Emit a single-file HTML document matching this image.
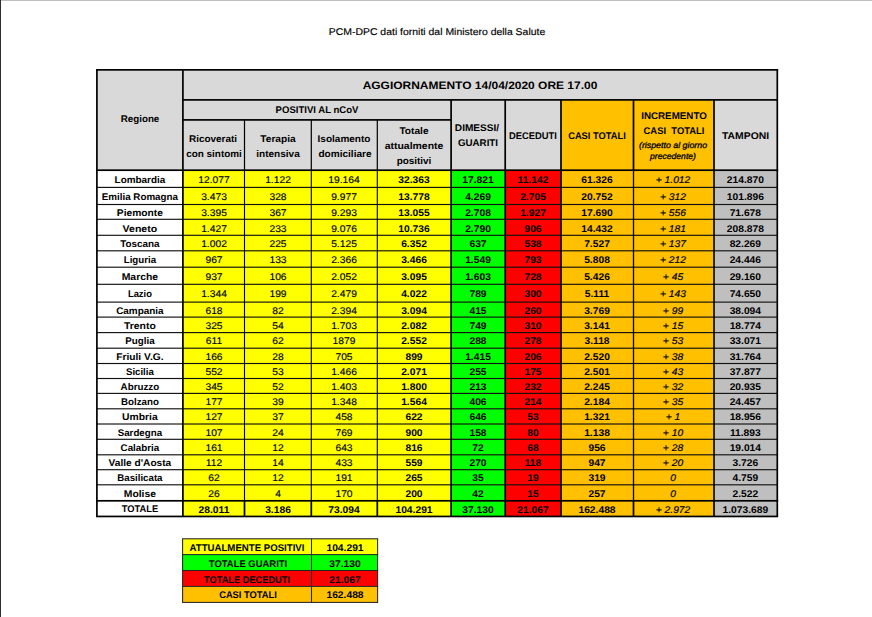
<!DOCTYPE html>
<html lang="it"><head><meta charset="utf-8"><title>PCM-DPC dati forniti dal Ministero della Salute</title>
<style>
html,body{margin:0;padding:0;background:#fff;}
html{overflow:hidden;}
body{width:872px;height:617px;overflow:hidden;}
#page{width:872px;height:617px;position:relative;overflow:hidden;font-family:"Liberation Sans",sans-serif;color:#000;text-rendering:geometricPrecision;}
svg{position:absolute;left:0;top:0;}
.t{position:absolute;width:300px;text-align:center;white-space:nowrap;font-weight:700;transform-origin:50% 50%;}
</style></head><body><div id="page">
<svg width="872" height="617" viewBox="0 0 872 617">
<rect x="0" y="0" width="872" height="1" fill="#BFBFBF"/>
<rect x="0" y="0" width="1" height="617" fill="#2E2E2E"/>
<rect x="96.90" y="69.85" width="464.10" height="100.35" fill="#D9D9D9"/>
<rect x="561.00" y="99.90" width="153.00" height="70.30" fill="#FFC000"/>
<rect x="714.00" y="99.90" width="63.30" height="70.30" fill="#D9D9D9"/>
<rect x="561.00" y="69.85" width="216.30" height="30.05" fill="#D9D9D9"/>
<rect x="96.90" y="170.20" width="86.00" height="346.25" fill="#FFFFFF"/>
<rect x="182.90" y="170.20" width="268.20" height="346.25" fill="#FFFF00"/>
<rect x="451.10" y="170.20" width="54.10" height="346.25" fill="#00FF00"/>
<rect x="505.20" y="170.20" width="55.80" height="346.25" fill="#FF0000"/>
<rect x="561.00" y="170.20" width="153.00" height="346.25" fill="#FFC000"/>
<rect x="714.00" y="170.20" width="63.30" height="346.25" fill="#BFBFBF"/>
<rect x="96.90" y="186.83" width="680.40" height="1.15" fill="#111"/>
<rect x="96.90" y="203.93" width="680.40" height="1.15" fill="#111"/>
<rect x="96.90" y="218.73" width="680.40" height="1.15" fill="#111"/>
<rect x="96.90" y="234.73" width="680.40" height="1.15" fill="#111"/>
<rect x="96.90" y="250.23" width="680.40" height="1.15" fill="#111"/>
<rect x="96.90" y="266.62" width="680.40" height="1.15" fill="#111"/>
<rect x="96.90" y="283.73" width="680.40" height="1.15" fill="#111"/>
<rect x="96.90" y="301.53" width="680.40" height="1.15" fill="#111"/>
<rect x="96.90" y="316.53" width="680.40" height="1.15" fill="#111"/>
<rect x="96.90" y="332.03" width="680.40" height="1.15" fill="#111"/>
<rect x="96.90" y="347.62" width="680.40" height="1.15" fill="#111"/>
<rect x="96.90" y="362.93" width="680.40" height="1.15" fill="#111"/>
<rect x="96.90" y="377.93" width="680.40" height="1.15" fill="#111"/>
<rect x="96.90" y="392.82" width="680.40" height="1.15" fill="#111"/>
<rect x="96.90" y="408.23" width="680.40" height="1.15" fill="#111"/>
<rect x="96.90" y="423.43" width="680.40" height="1.15" fill="#111"/>
<rect x="96.90" y="438.73" width="680.40" height="1.15" fill="#111"/>
<rect x="96.90" y="454.23" width="680.40" height="1.15" fill="#111"/>
<rect x="96.90" y="469.12" width="680.40" height="1.15" fill="#111"/>
<rect x="96.90" y="484.23" width="680.40" height="1.15" fill="#111"/>
<rect x="96.05" y="170.20" width="1.70" height="330.60" fill="#000"/>
<rect x="182.05" y="170.20" width="1.70" height="330.60" fill="#000"/>
<rect x="243.95" y="170.20" width="1.10" height="330.60" fill="#000"/>
<rect x="310.75" y="170.20" width="1.10" height="330.60" fill="#000"/>
<rect x="376.75" y="170.20" width="1.10" height="330.60" fill="#000"/>
<rect x="450.25" y="170.20" width="1.70" height="330.60" fill="#000"/>
<rect x="504.35" y="170.20" width="1.70" height="330.60" fill="#000"/>
<rect x="560.15" y="170.20" width="1.70" height="330.60" fill="#000"/>
<rect x="632.85" y="170.20" width="1.30" height="330.60" fill="#000"/>
<rect x="713.20" y="170.20" width="1.60" height="330.60" fill="#000"/>
<rect x="776.45" y="170.20" width="1.70" height="330.60" fill="#000"/>
<rect x="96.05" y="500.80" width="1.70" height="15.65" fill="#000"/>
<rect x="182.05" y="500.80" width="1.70" height="15.65" fill="#000"/>
<rect x="243.65" y="500.80" width="1.70" height="15.65" fill="#000"/>
<rect x="310.45" y="500.80" width="1.70" height="15.65" fill="#000"/>
<rect x="376.45" y="500.80" width="1.70" height="15.65" fill="#000"/>
<rect x="450.25" y="500.80" width="1.70" height="15.65" fill="#000"/>
<rect x="504.35" y="500.80" width="1.70" height="15.65" fill="#000"/>
<rect x="560.15" y="500.80" width="1.70" height="15.65" fill="#000"/>
<rect x="632.65" y="500.80" width="1.70" height="15.65" fill="#000"/>
<rect x="713.15" y="500.80" width="1.70" height="15.65" fill="#000"/>
<rect x="776.45" y="500.80" width="1.70" height="15.65" fill="#000"/>
<rect x="96.05" y="499.95" width="682.10" height="1.70" fill="#000"/>
<rect x="96.05" y="515.60" width="682.10" height="1.70" fill="#000"/>
<rect x="96.05" y="69.00" width="682.10" height="1.70" fill="#000"/>
<rect x="182.90" y="99.05" width="594.40" height="1.70" fill="#000"/>
<rect x="182.90" y="119.05" width="268.20" height="1.70" fill="#000"/>
<rect x="96.05" y="169.35" width="682.10" height="1.70" fill="#000"/>
<rect x="96.05" y="69.85" width="1.70" height="100.35" fill="#000"/>
<rect x="776.45" y="69.85" width="1.70" height="100.35" fill="#000"/>
<rect x="182.05" y="69.85" width="1.70" height="100.35" fill="#000"/>
<rect x="450.25" y="99.90" width="1.70" height="70.30" fill="#000"/>
<rect x="504.35" y="99.90" width="1.70" height="70.30" fill="#000"/>
<rect x="560.15" y="99.90" width="1.70" height="70.30" fill="#000"/>
<rect x="632.65" y="99.90" width="1.70" height="70.30" fill="#000"/>
<rect x="713.15" y="99.90" width="1.70" height="70.30" fill="#000"/>
<rect x="243.90" y="119.90" width="1.20" height="50.30" fill="#000"/>
<rect x="310.70" y="119.90" width="1.20" height="50.30" fill="#000"/>
<rect x="376.70" y="119.90" width="1.20" height="50.30" fill="#000"/>
<rect x="182.60" y="538.80" width="195.00" height="15.80" fill="#FFFF00"/>
<rect x="182.60" y="554.60" width="195.00" height="15.90" fill="#00FF00"/>
<rect x="182.60" y="570.50" width="195.00" height="15.90" fill="#FF0000"/>
<rect x="182.60" y="586.40" width="195.00" height="16.00" fill="#FFC000"/>
<rect x="182.10" y="538.27" width="196.00" height="1.05" fill="#262626"/>
<rect x="182.10" y="554.08" width="196.00" height="1.05" fill="#262626"/>
<rect x="182.10" y="569.98" width="196.00" height="1.05" fill="#262626"/>
<rect x="182.10" y="585.88" width="196.00" height="1.05" fill="#262626"/>
<rect x="182.10" y="601.88" width="196.00" height="1.05" fill="#262626"/>
<rect x="182.07" y="538.80" width="1.05" height="63.60" fill="#262626"/>
<rect x="310.98" y="538.80" width="1.05" height="63.60" fill="#262626"/>
<rect x="377.08" y="538.80" width="1.05" height="63.60" fill="#262626"/>
</svg>
<div class="t" style="left:286.85px;width:300.00px;top:27px;font-size:9.8px;line-height:12px;font-weight:400;-webkit-text-stroke:0.15px #000;transform:scaleX(1.066);"><span>PCM-DPC dati forniti dal Ministero della Salute</span></div>
<div class="t" style="left:330.30px;width:300.00px;top:79px;font-size:10.8px;line-height:14px;transform:scaleX(1.109);"><span>AGGIORNAMENTO 14/04/2020 ORE 17.00</span></div>
<div class="t" style="left:2.00px;width:276.00px;top:114px;font-size:9.7px;line-height:12px;transform:scaleX(1.010);"><span>Regione</span></div>
<div class="t" style="left:166.90px;width:300.00px;top:105px;font-size:9.7px;line-height:12px;transform:scaleX(0.986);"><span>POSITIVI AL nCoV</span></div>
<div class="t" style="left:63.45px;width:300.00px;top:134px;font-size:9.7px;line-height:12px;transform:scaleX(1.027);"><span>Ricoverati</span></div>
<div class="t" style="left:63.80px;width:300.00px;top:149px;font-size:9.7px;line-height:12px;transform:scaleX(1.023);"><span>con sintomi</span></div>
<div class="t" style="left:127.65px;width:300.00px;top:134px;font-size:9.7px;line-height:12px;transform:scaleX(1.046);"><span>Terapia</span></div>
<div class="t" style="left:127.75px;width:300.00px;top:149px;font-size:9.7px;line-height:12px;transform:scaleX(1.036);"><span>intensiva</span></div>
<div class="t" style="left:194.15px;width:300.00px;top:134px;font-size:9.7px;line-height:12px;transform:scaleX(1.034);"><span>Isolamento</span></div>
<div class="t" style="left:194.55px;width:300.00px;top:149px;font-size:9.7px;line-height:12px;transform:scaleX(1.038);"><span>domiciliare</span></div>
<div class="t" style="left:264.00px;width:300.00px;top:126px;font-size:9.7px;line-height:12px;transform:scaleX(1.050);"><span>Totale</span></div>
<div class="t" style="left:263.50px;width:300.00px;top:141px;font-size:9.7px;line-height:12px;transform:scaleX(1.078);"><span>attualmente</span></div>
<div class="t" style="left:263.75px;width:300.00px;top:156px;font-size:9.7px;line-height:12px;transform:scaleX(1.023);"><span>positivi</span></div>
<div class="t" style="left:327.35px;width:300.00px;top:123px;font-size:9.7px;line-height:12px;transform:scaleX(1.042);"><span>DIMESSI/</span></div>
<div class="t" style="left:327.75px;width:300.00px;top:138px;font-size:9.7px;line-height:12px;transform:scaleX(1.007);"><span>GUARITI</span></div>
<div class="t" style="left:383.35px;width:300.00px;top:131px;font-size:9.7px;line-height:12px;transform:scaleX(0.967);"><span>DECEDUTI</span></div>
<div class="t" style="left:447.25px;width:300.00px;top:131px;font-size:9.7px;line-height:12px;transform:scaleX(0.963);"><span>CASI TOTALI</span></div>
<div class="t" style="left:523.90px;width:300.00px;top:111px;font-size:9.7px;line-height:12px;transform:scaleX(1.010);"><span>INCREMENTO</span></div>
<div class="t" style="left:524.08px;width:300.00px;top:126px;font-size:9.7px;line-height:12px;transform:scaleX(0.973);"><span>CASI&nbsp; TOTALI</span></div>
<div class="t" style="left:523.25px;width:300.00px;top:140px;font-size:8.4px;line-height:10px;font-weight:400;-webkit-text-stroke:0.3px #000;font-style:italic;transform:scaleX(1.052);"><span>(rispetto al giorno</span></div>
<div class="t" style="left:523.12px;width:300.00px;top:151px;font-size:8.4px;line-height:10px;font-weight:400;-webkit-text-stroke:0.3px #000;font-style:italic;transform:scaleX(1.026);"><span>precedente)</span></div>
<div class="t" style="left:622.90px;width:245.10px;top:131px;font-size:9.7px;line-height:12px;transform:scaleX(1.072);"><span>TAMPONI</span></div>
<div class="t" style="left:2.00px;width:275.80px;top:175px;font-size:9.7px;line-height:12px;transform:scaleX(1.022);"><span>Lombardia</span></div>
<div class="t" style="left:63.70px;width:300.00px;top:175px;font-size:9.7px;line-height:12px;font-weight:400;-webkit-text-stroke:0.15px #000;transform:scaleX(1.060);"><span>12.077</span></div>
<div class="t" style="left:127.90px;width:300.00px;top:175px;font-size:9.7px;line-height:12px;font-weight:400;-webkit-text-stroke:0.15px #000;transform:scaleX(1.060);"><span>1.122</span></div>
<div class="t" style="left:194.30px;width:300.00px;top:175px;font-size:9.7px;line-height:12px;font-weight:400;-webkit-text-stroke:0.15px #000;transform:scaleX(1.060);"><span>19.164</span></div>
<div class="t" style="left:264.20px;width:300.00px;top:175px;font-size:9.7px;line-height:12px;transform:scaleX(1.060);"><span>32.363</span></div>
<div class="t" style="left:328.15px;width:300.00px;top:175px;font-size:9.7px;line-height:12px;transform:scaleX(1.060);"><span>17.821</span></div>
<div class="t" style="left:383.10px;width:300.00px;top:175px;font-size:9.7px;line-height:12px;transform:scaleX(1.060);"><span>11.142</span></div>
<div class="t" style="left:447.25px;width:300.00px;top:175px;font-size:9.7px;line-height:12px;transform:scaleX(1.060);"><span>61.326</span></div>
<div class="t" style="left:522.85px;width:300.00px;top:175px;font-size:9.7px;line-height:12px;font-weight:400;-webkit-text-stroke:0.2px #000;font-style:italic;transform:scaleX(1.060);"><span>+ 1.012</span></div>
<div class="t" style="left:623.30px;width:244.70px;top:175px;font-size:9.7px;line-height:12px;transform:scaleX(1.060);"><span>214.870</span></div>
<div class="t" style="left:2.00px;width:275.80px;top:192px;font-size:9.7px;line-height:12px;transform:scaleX(1.011);"><span>Emilia Romagna</span></div>
<div class="t" style="left:63.70px;width:300.00px;top:192px;font-size:9.7px;line-height:12px;font-weight:400;-webkit-text-stroke:0.15px #000;transform:scaleX(1.060);"><span>3.473</span></div>
<div class="t" style="left:127.90px;width:300.00px;top:192px;font-size:9.7px;line-height:12px;font-weight:400;-webkit-text-stroke:0.15px #000;transform:scaleX(1.060);"><span>328</span></div>
<div class="t" style="left:194.30px;width:300.00px;top:192px;font-size:9.7px;line-height:12px;font-weight:400;-webkit-text-stroke:0.15px #000;transform:scaleX(1.060);"><span>9.977</span></div>
<div class="t" style="left:264.20px;width:300.00px;top:192px;font-size:9.7px;line-height:12px;transform:scaleX(1.060);"><span>13.778</span></div>
<div class="t" style="left:328.15px;width:300.00px;top:192px;font-size:9.7px;line-height:12px;transform:scaleX(1.060);"><span>4.269</span></div>
<div class="t" style="left:383.10px;width:300.00px;top:192px;font-size:9.7px;line-height:12px;transform:scaleX(1.060);"><span>2.705</span></div>
<div class="t" style="left:447.25px;width:300.00px;top:192px;font-size:9.7px;line-height:12px;transform:scaleX(1.060);"><span>20.752</span></div>
<div class="t" style="left:522.85px;width:300.00px;top:192px;font-size:9.7px;line-height:12px;font-weight:400;-webkit-text-stroke:0.2px #000;font-style:italic;transform:scaleX(1.060);"><span>+ 312</span></div>
<div class="t" style="left:623.30px;width:244.70px;top:192px;font-size:9.7px;line-height:12px;transform:scaleX(1.060);"><span>101.896</span></div>
<div class="t" style="left:2.00px;width:275.80px;top:208px;font-size:9.7px;line-height:12px;transform:scaleX(1.057);"><span>Piemonte</span></div>
<div class="t" style="left:63.70px;width:300.00px;top:208px;font-size:9.7px;line-height:12px;font-weight:400;-webkit-text-stroke:0.15px #000;transform:scaleX(1.060);"><span>3.395</span></div>
<div class="t" style="left:127.90px;width:300.00px;top:208px;font-size:9.7px;line-height:12px;font-weight:400;-webkit-text-stroke:0.15px #000;transform:scaleX(1.060);"><span>367</span></div>
<div class="t" style="left:194.30px;width:300.00px;top:208px;font-size:9.7px;line-height:12px;font-weight:400;-webkit-text-stroke:0.15px #000;transform:scaleX(1.060);"><span>9.293</span></div>
<div class="t" style="left:264.20px;width:300.00px;top:208px;font-size:9.7px;line-height:12px;transform:scaleX(1.060);"><span>13.055</span></div>
<div class="t" style="left:328.15px;width:300.00px;top:208px;font-size:9.7px;line-height:12px;transform:scaleX(1.060);"><span>2.708</span></div>
<div class="t" style="left:383.10px;width:300.00px;top:208px;font-size:9.7px;line-height:12px;transform:scaleX(1.060);"><span>1.927</span></div>
<div class="t" style="left:447.25px;width:300.00px;top:208px;font-size:9.7px;line-height:12px;transform:scaleX(1.060);"><span>17.690</span></div>
<div class="t" style="left:522.85px;width:300.00px;top:208px;font-size:9.7px;line-height:12px;font-weight:400;-webkit-text-stroke:0.2px #000;font-style:italic;transform:scaleX(1.060);"><span>+ 556</span></div>
<div class="t" style="left:623.30px;width:244.70px;top:208px;font-size:9.7px;line-height:12px;transform:scaleX(1.060);"><span>71.678</span></div>
<div class="t" style="left:2.00px;width:275.80px;top:224px;font-size:9.7px;line-height:12px;transform:scaleX(1.089);"><span>Veneto</span></div>
<div class="t" style="left:63.70px;width:300.00px;top:224px;font-size:9.7px;line-height:12px;font-weight:400;-webkit-text-stroke:0.15px #000;transform:scaleX(1.060);"><span>1.427</span></div>
<div class="t" style="left:127.90px;width:300.00px;top:224px;font-size:9.7px;line-height:12px;font-weight:400;-webkit-text-stroke:0.15px #000;transform:scaleX(1.060);"><span>233</span></div>
<div class="t" style="left:194.30px;width:300.00px;top:224px;font-size:9.7px;line-height:12px;font-weight:400;-webkit-text-stroke:0.15px #000;transform:scaleX(1.060);"><span>9.076</span></div>
<div class="t" style="left:264.20px;width:300.00px;top:224px;font-size:9.7px;line-height:12px;transform:scaleX(1.060);"><span>10.736</span></div>
<div class="t" style="left:328.15px;width:300.00px;top:224px;font-size:9.7px;line-height:12px;transform:scaleX(1.060);"><span>2.790</span></div>
<div class="t" style="left:383.10px;width:300.00px;top:224px;font-size:9.7px;line-height:12px;transform:scaleX(1.060);"><span>906</span></div>
<div class="t" style="left:447.25px;width:300.00px;top:224px;font-size:9.7px;line-height:12px;transform:scaleX(1.060);"><span>14.432</span></div>
<div class="t" style="left:522.85px;width:300.00px;top:224px;font-size:9.7px;line-height:12px;font-weight:400;-webkit-text-stroke:0.2px #000;font-style:italic;transform:scaleX(1.060);"><span>+ 181</span></div>
<div class="t" style="left:623.30px;width:244.70px;top:224px;font-size:9.7px;line-height:12px;transform:scaleX(1.060);"><span>208.878</span></div>
<div class="t" style="left:2.00px;width:275.80px;top:239px;font-size:9.7px;line-height:12px;transform:scaleX(1.020);"><span>Toscana</span></div>
<div class="t" style="left:63.70px;width:300.00px;top:239px;font-size:9.7px;line-height:12px;font-weight:400;-webkit-text-stroke:0.15px #000;transform:scaleX(1.060);"><span>1.002</span></div>
<div class="t" style="left:127.90px;width:300.00px;top:239px;font-size:9.7px;line-height:12px;font-weight:400;-webkit-text-stroke:0.15px #000;transform:scaleX(1.060);"><span>225</span></div>
<div class="t" style="left:194.30px;width:300.00px;top:239px;font-size:9.7px;line-height:12px;font-weight:400;-webkit-text-stroke:0.15px #000;transform:scaleX(1.060);"><span>5.125</span></div>
<div class="t" style="left:264.20px;width:300.00px;top:239px;font-size:9.7px;line-height:12px;transform:scaleX(1.060);"><span>6.352</span></div>
<div class="t" style="left:328.15px;width:300.00px;top:239px;font-size:9.7px;line-height:12px;transform:scaleX(1.060);"><span>637</span></div>
<div class="t" style="left:383.10px;width:300.00px;top:239px;font-size:9.7px;line-height:12px;transform:scaleX(1.060);"><span>538</span></div>
<div class="t" style="left:447.25px;width:300.00px;top:239px;font-size:9.7px;line-height:12px;transform:scaleX(1.060);"><span>7.527</span></div>
<div class="t" style="left:522.85px;width:300.00px;top:239px;font-size:9.7px;line-height:12px;font-weight:400;-webkit-text-stroke:0.2px #000;font-style:italic;transform:scaleX(1.060);"><span>+ 137</span></div>
<div class="t" style="left:623.30px;width:244.70px;top:239px;font-size:9.7px;line-height:12px;transform:scaleX(1.060);"><span>82.269</span></div>
<div class="t" style="left:2.00px;width:275.80px;top:255px;font-size:9.7px;line-height:12px;"><span>Liguria</span></div>
<div class="t" style="left:63.70px;width:300.00px;top:255px;font-size:9.7px;line-height:12px;font-weight:400;-webkit-text-stroke:0.15px #000;transform:scaleX(1.060);"><span>967</span></div>
<div class="t" style="left:127.90px;width:300.00px;top:255px;font-size:9.7px;line-height:12px;font-weight:400;-webkit-text-stroke:0.15px #000;transform:scaleX(1.060);"><span>133</span></div>
<div class="t" style="left:194.30px;width:300.00px;top:255px;font-size:9.7px;line-height:12px;font-weight:400;-webkit-text-stroke:0.15px #000;transform:scaleX(1.060);"><span>2.366</span></div>
<div class="t" style="left:264.20px;width:300.00px;top:255px;font-size:9.7px;line-height:12px;transform:scaleX(1.060);"><span>3.466</span></div>
<div class="t" style="left:328.15px;width:300.00px;top:255px;font-size:9.7px;line-height:12px;transform:scaleX(1.060);"><span>1.549</span></div>
<div class="t" style="left:383.10px;width:300.00px;top:255px;font-size:9.7px;line-height:12px;transform:scaleX(1.060);"><span>793</span></div>
<div class="t" style="left:447.25px;width:300.00px;top:255px;font-size:9.7px;line-height:12px;transform:scaleX(1.060);"><span>5.808</span></div>
<div class="t" style="left:522.85px;width:300.00px;top:255px;font-size:9.7px;line-height:12px;font-weight:400;-webkit-text-stroke:0.2px #000;font-style:italic;transform:scaleX(1.060);"><span>+ 212</span></div>
<div class="t" style="left:623.30px;width:244.70px;top:255px;font-size:9.7px;line-height:12px;transform:scaleX(1.060);"><span>24.446</span></div>
<div class="t" style="left:2.00px;width:275.80px;top:272px;font-size:9.7px;line-height:12px;transform:scaleX(1.076);"><span>Marche</span></div>
<div class="t" style="left:63.70px;width:300.00px;top:272px;font-size:9.7px;line-height:12px;font-weight:400;-webkit-text-stroke:0.15px #000;transform:scaleX(1.060);"><span>937</span></div>
<div class="t" style="left:127.90px;width:300.00px;top:272px;font-size:9.7px;line-height:12px;font-weight:400;-webkit-text-stroke:0.15px #000;transform:scaleX(1.060);"><span>106</span></div>
<div class="t" style="left:194.30px;width:300.00px;top:272px;font-size:9.7px;line-height:12px;font-weight:400;-webkit-text-stroke:0.15px #000;transform:scaleX(1.060);"><span>2.052</span></div>
<div class="t" style="left:264.20px;width:300.00px;top:272px;font-size:9.7px;line-height:12px;transform:scaleX(1.060);"><span>3.095</span></div>
<div class="t" style="left:328.15px;width:300.00px;top:272px;font-size:9.7px;line-height:12px;transform:scaleX(1.060);"><span>1.603</span></div>
<div class="t" style="left:383.10px;width:300.00px;top:272px;font-size:9.7px;line-height:12px;transform:scaleX(1.060);"><span>728</span></div>
<div class="t" style="left:447.25px;width:300.00px;top:272px;font-size:9.7px;line-height:12px;transform:scaleX(1.060);"><span>5.426</span></div>
<div class="t" style="left:522.85px;width:300.00px;top:272px;font-size:9.7px;line-height:12px;font-weight:400;-webkit-text-stroke:0.2px #000;font-style:italic;transform:scaleX(1.060);"><span>+ 45</span></div>
<div class="t" style="left:623.30px;width:244.70px;top:272px;font-size:9.7px;line-height:12px;transform:scaleX(1.060);"><span>29.160</span></div>
<div class="t" style="left:2.00px;width:275.80px;top:289px;font-size:9.7px;line-height:12px;transform:scaleX(0.969);"><span>Lazio</span></div>
<div class="t" style="left:63.70px;width:300.00px;top:289px;font-size:9.7px;line-height:12px;font-weight:400;-webkit-text-stroke:0.15px #000;transform:scaleX(1.060);"><span>1.344</span></div>
<div class="t" style="left:127.90px;width:300.00px;top:289px;font-size:9.7px;line-height:12px;font-weight:400;-webkit-text-stroke:0.15px #000;transform:scaleX(1.060);"><span>199</span></div>
<div class="t" style="left:194.30px;width:300.00px;top:289px;font-size:9.7px;line-height:12px;font-weight:400;-webkit-text-stroke:0.15px #000;transform:scaleX(1.060);"><span>2.479</span></div>
<div class="t" style="left:264.20px;width:300.00px;top:289px;font-size:9.7px;line-height:12px;transform:scaleX(1.060);"><span>4.022</span></div>
<div class="t" style="left:328.15px;width:300.00px;top:289px;font-size:9.7px;line-height:12px;transform:scaleX(1.060);"><span>789</span></div>
<div class="t" style="left:383.10px;width:300.00px;top:289px;font-size:9.7px;line-height:12px;transform:scaleX(1.060);"><span>300</span></div>
<div class="t" style="left:447.25px;width:300.00px;top:289px;font-size:9.7px;line-height:12px;transform:scaleX(1.060);"><span>5.111</span></div>
<div class="t" style="left:522.85px;width:300.00px;top:289px;font-size:9.7px;line-height:12px;font-weight:400;-webkit-text-stroke:0.2px #000;font-style:italic;transform:scaleX(1.060);"><span>+ 143</span></div>
<div class="t" style="left:623.30px;width:244.70px;top:289px;font-size:9.7px;line-height:12px;transform:scaleX(1.060);"><span>74.650</span></div>
<div class="t" style="left:2.00px;width:275.80px;top:306px;font-size:9.7px;line-height:12px;transform:scaleX(1.023);"><span>Campania</span></div>
<div class="t" style="left:63.70px;width:300.00px;top:306px;font-size:9.7px;line-height:12px;font-weight:400;-webkit-text-stroke:0.15px #000;transform:scaleX(1.060);"><span>618</span></div>
<div class="t" style="left:127.90px;width:300.00px;top:306px;font-size:9.7px;line-height:12px;font-weight:400;-webkit-text-stroke:0.15px #000;transform:scaleX(1.060);"><span>82</span></div>
<div class="t" style="left:194.30px;width:300.00px;top:306px;font-size:9.7px;line-height:12px;font-weight:400;-webkit-text-stroke:0.15px #000;transform:scaleX(1.060);"><span>2.394</span></div>
<div class="t" style="left:264.20px;width:300.00px;top:306px;font-size:9.7px;line-height:12px;transform:scaleX(1.060);"><span>3.094</span></div>
<div class="t" style="left:328.15px;width:300.00px;top:306px;font-size:9.7px;line-height:12px;transform:scaleX(1.060);"><span>415</span></div>
<div class="t" style="left:383.10px;width:300.00px;top:306px;font-size:9.7px;line-height:12px;transform:scaleX(1.060);"><span>260</span></div>
<div class="t" style="left:447.25px;width:300.00px;top:306px;font-size:9.7px;line-height:12px;transform:scaleX(1.060);"><span>3.769</span></div>
<div class="t" style="left:522.85px;width:300.00px;top:306px;font-size:9.7px;line-height:12px;font-weight:400;-webkit-text-stroke:0.2px #000;font-style:italic;transform:scaleX(1.060);"><span>+ 99</span></div>
<div class="t" style="left:623.30px;width:244.70px;top:306px;font-size:9.7px;line-height:12px;transform:scaleX(1.060);"><span>38.094</span></div>
<div class="t" style="left:2.00px;width:275.80px;top:321px;font-size:9.7px;line-height:12px;transform:scaleX(1.074);"><span>Trento</span></div>
<div class="t" style="left:63.70px;width:300.00px;top:321px;font-size:9.7px;line-height:12px;font-weight:400;-webkit-text-stroke:0.15px #000;transform:scaleX(1.060);"><span>325</span></div>
<div class="t" style="left:127.90px;width:300.00px;top:321px;font-size:9.7px;line-height:12px;font-weight:400;-webkit-text-stroke:0.15px #000;transform:scaleX(1.060);"><span>54</span></div>
<div class="t" style="left:194.30px;width:300.00px;top:321px;font-size:9.7px;line-height:12px;font-weight:400;-webkit-text-stroke:0.15px #000;transform:scaleX(1.060);"><span>1.703</span></div>
<div class="t" style="left:264.20px;width:300.00px;top:321px;font-size:9.7px;line-height:12px;transform:scaleX(1.060);"><span>2.082</span></div>
<div class="t" style="left:328.15px;width:300.00px;top:321px;font-size:9.7px;line-height:12px;transform:scaleX(1.060);"><span>749</span></div>
<div class="t" style="left:383.10px;width:300.00px;top:321px;font-size:9.7px;line-height:12px;transform:scaleX(1.060);"><span>310</span></div>
<div class="t" style="left:447.25px;width:300.00px;top:321px;font-size:9.7px;line-height:12px;transform:scaleX(1.060);"><span>3.141</span></div>
<div class="t" style="left:522.85px;width:300.00px;top:321px;font-size:9.7px;line-height:12px;font-weight:400;-webkit-text-stroke:0.2px #000;font-style:italic;transform:scaleX(1.060);"><span>+ 15</span></div>
<div class="t" style="left:623.30px;width:244.70px;top:321px;font-size:9.7px;line-height:12px;transform:scaleX(1.060);"><span>18.774</span></div>
<div class="t" style="left:2.00px;width:275.80px;top:336px;font-size:9.7px;line-height:12px;transform:scaleX(1.011);"><span>Puglia</span></div>
<div class="t" style="left:63.70px;width:300.00px;top:336px;font-size:9.7px;line-height:12px;font-weight:400;-webkit-text-stroke:0.15px #000;transform:scaleX(1.060);"><span>611</span></div>
<div class="t" style="left:127.90px;width:300.00px;top:336px;font-size:9.7px;line-height:12px;font-weight:400;-webkit-text-stroke:0.15px #000;transform:scaleX(1.060);"><span>62</span></div>
<div class="t" style="left:194.30px;width:300.00px;top:336px;font-size:9.7px;line-height:12px;font-weight:400;-webkit-text-stroke:0.15px #000;transform:scaleX(1.060);"><span>1879</span></div>
<div class="t" style="left:264.20px;width:300.00px;top:336px;font-size:9.7px;line-height:12px;transform:scaleX(1.060);"><span>2.552</span></div>
<div class="t" style="left:328.15px;width:300.00px;top:336px;font-size:9.7px;line-height:12px;transform:scaleX(1.060);"><span>288</span></div>
<div class="t" style="left:383.10px;width:300.00px;top:336px;font-size:9.7px;line-height:12px;transform:scaleX(1.060);"><span>278</span></div>
<div class="t" style="left:447.25px;width:300.00px;top:336px;font-size:9.7px;line-height:12px;transform:scaleX(1.060);"><span>3.118</span></div>
<div class="t" style="left:522.85px;width:300.00px;top:336px;font-size:9.7px;line-height:12px;font-weight:400;-webkit-text-stroke:0.2px #000;font-style:italic;transform:scaleX(1.060);"><span>+ 53</span></div>
<div class="t" style="left:623.30px;width:244.70px;top:336px;font-size:9.7px;line-height:12px;transform:scaleX(1.060);"><span>33.071</span></div>
<div class="t" style="left:2.00px;width:275.80px;top:352px;font-size:9.7px;line-height:12px;transform:scaleX(1.056);"><span>Friuli V.G.</span></div>
<div class="t" style="left:63.70px;width:300.00px;top:352px;font-size:9.7px;line-height:12px;font-weight:400;-webkit-text-stroke:0.15px #000;transform:scaleX(1.060);"><span>166</span></div>
<div class="t" style="left:127.90px;width:300.00px;top:352px;font-size:9.7px;line-height:12px;font-weight:400;-webkit-text-stroke:0.15px #000;transform:scaleX(1.060);"><span>28</span></div>
<div class="t" style="left:194.30px;width:300.00px;top:352px;font-size:9.7px;line-height:12px;font-weight:400;-webkit-text-stroke:0.15px #000;transform:scaleX(1.060);"><span>705</span></div>
<div class="t" style="left:264.20px;width:300.00px;top:352px;font-size:9.7px;line-height:12px;transform:scaleX(1.060);"><span>899</span></div>
<div class="t" style="left:328.15px;width:300.00px;top:352px;font-size:9.7px;line-height:12px;transform:scaleX(1.060);"><span>1.415</span></div>
<div class="t" style="left:383.10px;width:300.00px;top:352px;font-size:9.7px;line-height:12px;transform:scaleX(1.060);"><span>206</span></div>
<div class="t" style="left:447.25px;width:300.00px;top:352px;font-size:9.7px;line-height:12px;transform:scaleX(1.060);"><span>2.520</span></div>
<div class="t" style="left:522.85px;width:300.00px;top:352px;font-size:9.7px;line-height:12px;font-weight:400;-webkit-text-stroke:0.2px #000;font-style:italic;transform:scaleX(1.060);"><span>+ 38</span></div>
<div class="t" style="left:623.30px;width:244.70px;top:352px;font-size:9.7px;line-height:12px;transform:scaleX(1.060);"><span>31.764</span></div>
<div class="t" style="left:2.00px;width:275.80px;top:367px;font-size:9.7px;line-height:12px;transform:scaleX(0.994);"><span>Sicilia</span></div>
<div class="t" style="left:63.70px;width:300.00px;top:367px;font-size:9.7px;line-height:12px;font-weight:400;-webkit-text-stroke:0.15px #000;transform:scaleX(1.060);"><span>552</span></div>
<div class="t" style="left:127.90px;width:300.00px;top:367px;font-size:9.7px;line-height:12px;font-weight:400;-webkit-text-stroke:0.15px #000;transform:scaleX(1.060);"><span>53</span></div>
<div class="t" style="left:194.30px;width:300.00px;top:367px;font-size:9.7px;line-height:12px;font-weight:400;-webkit-text-stroke:0.15px #000;transform:scaleX(1.060);"><span>1.466</span></div>
<div class="t" style="left:264.20px;width:300.00px;top:367px;font-size:9.7px;line-height:12px;transform:scaleX(1.060);"><span>2.071</span></div>
<div class="t" style="left:328.15px;width:300.00px;top:367px;font-size:9.7px;line-height:12px;transform:scaleX(1.060);"><span>255</span></div>
<div class="t" style="left:383.10px;width:300.00px;top:367px;font-size:9.7px;line-height:12px;transform:scaleX(1.060);"><span>175</span></div>
<div class="t" style="left:447.25px;width:300.00px;top:367px;font-size:9.7px;line-height:12px;transform:scaleX(1.060);"><span>2.501</span></div>
<div class="t" style="left:522.85px;width:300.00px;top:367px;font-size:9.7px;line-height:12px;font-weight:400;-webkit-text-stroke:0.2px #000;font-style:italic;transform:scaleX(1.060);"><span>+ 43</span></div>
<div class="t" style="left:623.30px;width:244.70px;top:367px;font-size:9.7px;line-height:12px;transform:scaleX(1.060);"><span>37.877</span></div>
<div class="t" style="left:2.00px;width:275.80px;top:382px;font-size:9.7px;line-height:12px;transform:scaleX(1.010);"><span>Abruzzo</span></div>
<div class="t" style="left:63.70px;width:300.00px;top:382px;font-size:9.7px;line-height:12px;font-weight:400;-webkit-text-stroke:0.15px #000;transform:scaleX(1.060);"><span>345</span></div>
<div class="t" style="left:127.90px;width:300.00px;top:382px;font-size:9.7px;line-height:12px;font-weight:400;-webkit-text-stroke:0.15px #000;transform:scaleX(1.060);"><span>52</span></div>
<div class="t" style="left:194.30px;width:300.00px;top:382px;font-size:9.7px;line-height:12px;font-weight:400;-webkit-text-stroke:0.15px #000;transform:scaleX(1.060);"><span>1.403</span></div>
<div class="t" style="left:264.20px;width:300.00px;top:382px;font-size:9.7px;line-height:12px;transform:scaleX(1.060);"><span>1.800</span></div>
<div class="t" style="left:328.15px;width:300.00px;top:382px;font-size:9.7px;line-height:12px;transform:scaleX(1.060);"><span>213</span></div>
<div class="t" style="left:383.10px;width:300.00px;top:382px;font-size:9.7px;line-height:12px;transform:scaleX(1.060);"><span>232</span></div>
<div class="t" style="left:447.25px;width:300.00px;top:382px;font-size:9.7px;line-height:12px;transform:scaleX(1.060);"><span>2.245</span></div>
<div class="t" style="left:522.85px;width:300.00px;top:382px;font-size:9.7px;line-height:12px;font-weight:400;-webkit-text-stroke:0.2px #000;font-style:italic;transform:scaleX(1.060);"><span>+ 32</span></div>
<div class="t" style="left:623.30px;width:244.70px;top:382px;font-size:9.7px;line-height:12px;transform:scaleX(1.060);"><span>20.935</span></div>
<div class="t" style="left:2.00px;width:275.80px;top:397px;font-size:9.7px;line-height:12px;transform:scaleX(1.005);"><span>Bolzano</span></div>
<div class="t" style="left:63.70px;width:300.00px;top:397px;font-size:9.7px;line-height:12px;font-weight:400;-webkit-text-stroke:0.15px #000;transform:scaleX(1.060);"><span>177</span></div>
<div class="t" style="left:127.90px;width:300.00px;top:397px;font-size:9.7px;line-height:12px;font-weight:400;-webkit-text-stroke:0.15px #000;transform:scaleX(1.060);"><span>39</span></div>
<div class="t" style="left:194.30px;width:300.00px;top:397px;font-size:9.7px;line-height:12px;font-weight:400;-webkit-text-stroke:0.15px #000;transform:scaleX(1.060);"><span>1.348</span></div>
<div class="t" style="left:264.20px;width:300.00px;top:397px;font-size:9.7px;line-height:12px;transform:scaleX(1.060);"><span>1.564</span></div>
<div class="t" style="left:328.15px;width:300.00px;top:397px;font-size:9.7px;line-height:12px;transform:scaleX(1.060);"><span>406</span></div>
<div class="t" style="left:383.10px;width:300.00px;top:397px;font-size:9.7px;line-height:12px;transform:scaleX(1.060);"><span>214</span></div>
<div class="t" style="left:447.25px;width:300.00px;top:397px;font-size:9.7px;line-height:12px;transform:scaleX(1.060);"><span>2.184</span></div>
<div class="t" style="left:522.85px;width:300.00px;top:397px;font-size:9.7px;line-height:12px;font-weight:400;-webkit-text-stroke:0.2px #000;font-style:italic;transform:scaleX(1.060);"><span>+ 35</span></div>
<div class="t" style="left:623.30px;width:244.70px;top:397px;font-size:9.7px;line-height:12px;transform:scaleX(1.060);"><span>24.457</span></div>
<div class="t" style="left:2.00px;width:275.80px;top:412px;font-size:9.7px;line-height:12px;transform:scaleX(1.066);"><span>Umbria</span></div>
<div class="t" style="left:63.70px;width:300.00px;top:412px;font-size:9.7px;line-height:12px;font-weight:400;-webkit-text-stroke:0.15px #000;transform:scaleX(1.060);"><span>127</span></div>
<div class="t" style="left:127.90px;width:300.00px;top:412px;font-size:9.7px;line-height:12px;font-weight:400;-webkit-text-stroke:0.15px #000;transform:scaleX(1.060);"><span>37</span></div>
<div class="t" style="left:194.30px;width:300.00px;top:412px;font-size:9.7px;line-height:12px;font-weight:400;-webkit-text-stroke:0.15px #000;transform:scaleX(1.060);"><span>458</span></div>
<div class="t" style="left:264.20px;width:300.00px;top:412px;font-size:9.7px;line-height:12px;transform:scaleX(1.060);"><span>622</span></div>
<div class="t" style="left:328.15px;width:300.00px;top:412px;font-size:9.7px;line-height:12px;transform:scaleX(1.060);"><span>646</span></div>
<div class="t" style="left:383.10px;width:300.00px;top:412px;font-size:9.7px;line-height:12px;transform:scaleX(1.060);"><span>53</span></div>
<div class="t" style="left:447.25px;width:300.00px;top:412px;font-size:9.7px;line-height:12px;transform:scaleX(1.060);"><span>1.321</span></div>
<div class="t" style="left:522.85px;width:300.00px;top:412px;font-size:9.7px;line-height:12px;font-weight:400;-webkit-text-stroke:0.2px #000;font-style:italic;transform:scaleX(1.060);"><span>+ 1</span></div>
<div class="t" style="left:623.30px;width:244.70px;top:412px;font-size:9.7px;line-height:12px;transform:scaleX(1.060);"><span>18.956</span></div>
<div class="t" style="left:2.00px;width:275.80px;top:428px;font-size:9.7px;line-height:12px;transform:scaleX(1.004);"><span>Sardegna</span></div>
<div class="t" style="left:63.70px;width:300.00px;top:428px;font-size:9.7px;line-height:12px;font-weight:400;-webkit-text-stroke:0.15px #000;transform:scaleX(1.060);"><span>107</span></div>
<div class="t" style="left:127.90px;width:300.00px;top:428px;font-size:9.7px;line-height:12px;font-weight:400;-webkit-text-stroke:0.15px #000;transform:scaleX(1.060);"><span>24</span></div>
<div class="t" style="left:194.30px;width:300.00px;top:428px;font-size:9.7px;line-height:12px;font-weight:400;-webkit-text-stroke:0.15px #000;transform:scaleX(1.060);"><span>769</span></div>
<div class="t" style="left:264.20px;width:300.00px;top:428px;font-size:9.7px;line-height:12px;transform:scaleX(1.060);"><span>900</span></div>
<div class="t" style="left:328.15px;width:300.00px;top:428px;font-size:9.7px;line-height:12px;transform:scaleX(1.060);"><span>158</span></div>
<div class="t" style="left:383.10px;width:300.00px;top:428px;font-size:9.7px;line-height:12px;transform:scaleX(1.060);"><span>80</span></div>
<div class="t" style="left:447.25px;width:300.00px;top:428px;font-size:9.7px;line-height:12px;transform:scaleX(1.060);"><span>1.138</span></div>
<div class="t" style="left:522.85px;width:300.00px;top:428px;font-size:9.7px;line-height:12px;font-weight:400;-webkit-text-stroke:0.2px #000;font-style:italic;transform:scaleX(1.060);"><span>+ 10</span></div>
<div class="t" style="left:623.30px;width:244.70px;top:428px;font-size:9.7px;line-height:12px;transform:scaleX(1.060);"><span>11.893</span></div>
<div class="t" style="left:2.00px;width:275.80px;top:443px;font-size:9.7px;line-height:12px;transform:scaleX(1.010);"><span>Calabria</span></div>
<div class="t" style="left:63.70px;width:300.00px;top:443px;font-size:9.7px;line-height:12px;font-weight:400;-webkit-text-stroke:0.15px #000;transform:scaleX(1.060);"><span>161</span></div>
<div class="t" style="left:127.90px;width:300.00px;top:443px;font-size:9.7px;line-height:12px;font-weight:400;-webkit-text-stroke:0.15px #000;transform:scaleX(1.060);"><span>12</span></div>
<div class="t" style="left:194.30px;width:300.00px;top:443px;font-size:9.7px;line-height:12px;font-weight:400;-webkit-text-stroke:0.15px #000;transform:scaleX(1.060);"><span>643</span></div>
<div class="t" style="left:264.20px;width:300.00px;top:443px;font-size:9.7px;line-height:12px;transform:scaleX(1.060);"><span>816</span></div>
<div class="t" style="left:328.15px;width:300.00px;top:443px;font-size:9.7px;line-height:12px;transform:scaleX(1.060);"><span>72</span></div>
<div class="t" style="left:383.10px;width:300.00px;top:443px;font-size:9.7px;line-height:12px;transform:scaleX(1.060);"><span>68</span></div>
<div class="t" style="left:447.25px;width:300.00px;top:443px;font-size:9.7px;line-height:12px;transform:scaleX(1.060);"><span>956</span></div>
<div class="t" style="left:522.85px;width:300.00px;top:443px;font-size:9.7px;line-height:12px;font-weight:400;-webkit-text-stroke:0.2px #000;font-style:italic;transform:scaleX(1.060);"><span>+ 28</span></div>
<div class="t" style="left:623.30px;width:244.70px;top:443px;font-size:9.7px;line-height:12px;transform:scaleX(1.060);"><span>19.014</span></div>
<div class="t" style="left:2.00px;width:275.80px;top:458px;font-size:9.7px;line-height:12px;transform:scaleX(1.045);"><span>Valle d'Aosta</span></div>
<div class="t" style="left:63.70px;width:300.00px;top:458px;font-size:9.7px;line-height:12px;font-weight:400;-webkit-text-stroke:0.15px #000;transform:scaleX(1.060);"><span>112</span></div>
<div class="t" style="left:127.90px;width:300.00px;top:458px;font-size:9.7px;line-height:12px;font-weight:400;-webkit-text-stroke:0.15px #000;transform:scaleX(1.060);"><span>14</span></div>
<div class="t" style="left:194.30px;width:300.00px;top:458px;font-size:9.7px;line-height:12px;font-weight:400;-webkit-text-stroke:0.15px #000;transform:scaleX(1.060);"><span>433</span></div>
<div class="t" style="left:264.20px;width:300.00px;top:458px;font-size:9.7px;line-height:12px;transform:scaleX(1.060);"><span>559</span></div>
<div class="t" style="left:328.15px;width:300.00px;top:458px;font-size:9.7px;line-height:12px;transform:scaleX(1.060);"><span>270</span></div>
<div class="t" style="left:383.10px;width:300.00px;top:458px;font-size:9.7px;line-height:12px;transform:scaleX(1.060);"><span>118</span></div>
<div class="t" style="left:447.25px;width:300.00px;top:458px;font-size:9.7px;line-height:12px;transform:scaleX(1.060);"><span>947</span></div>
<div class="t" style="left:522.85px;width:300.00px;top:458px;font-size:9.7px;line-height:12px;font-weight:400;-webkit-text-stroke:0.2px #000;font-style:italic;transform:scaleX(1.060);"><span>+ 20</span></div>
<div class="t" style="left:623.30px;width:244.70px;top:458px;font-size:9.7px;line-height:12px;transform:scaleX(1.060);"><span>3.726</span></div>
<div class="t" style="left:2.00px;width:275.80px;top:473px;font-size:9.7px;line-height:12px;"><span>Basilicata</span></div>
<div class="t" style="left:63.70px;width:300.00px;top:473px;font-size:9.7px;line-height:12px;font-weight:400;-webkit-text-stroke:0.15px #000;transform:scaleX(1.060);"><span>62</span></div>
<div class="t" style="left:127.90px;width:300.00px;top:473px;font-size:9.7px;line-height:12px;font-weight:400;-webkit-text-stroke:0.15px #000;transform:scaleX(1.060);"><span>12</span></div>
<div class="t" style="left:194.30px;width:300.00px;top:473px;font-size:9.7px;line-height:12px;font-weight:400;-webkit-text-stroke:0.15px #000;transform:scaleX(1.060);"><span>191</span></div>
<div class="t" style="left:264.20px;width:300.00px;top:473px;font-size:9.7px;line-height:12px;transform:scaleX(1.060);"><span>265</span></div>
<div class="t" style="left:328.15px;width:300.00px;top:473px;font-size:9.7px;line-height:12px;transform:scaleX(1.060);"><span>35</span></div>
<div class="t" style="left:383.10px;width:300.00px;top:473px;font-size:9.7px;line-height:12px;transform:scaleX(1.060);"><span>19</span></div>
<div class="t" style="left:447.25px;width:300.00px;top:473px;font-size:9.7px;line-height:12px;transform:scaleX(1.060);"><span>319</span></div>
<div class="t" style="left:522.85px;width:300.00px;top:473px;font-size:9.7px;line-height:12px;font-weight:400;-webkit-text-stroke:0.2px #000;font-style:italic;transform:scaleX(1.060);"><span>0</span></div>
<div class="t" style="left:623.30px;width:244.70px;top:473px;font-size:9.7px;line-height:12px;transform:scaleX(1.060);"><span>4.759</span></div>
<div class="t" style="left:2.00px;width:275.80px;top:489px;font-size:9.7px;line-height:12px;transform:scaleX(1.068);"><span>Molise</span></div>
<div class="t" style="left:63.70px;width:300.00px;top:489px;font-size:9.7px;line-height:12px;font-weight:400;-webkit-text-stroke:0.15px #000;transform:scaleX(1.060);"><span>26</span></div>
<div class="t" style="left:127.90px;width:300.00px;top:489px;font-size:9.7px;line-height:12px;font-weight:400;-webkit-text-stroke:0.15px #000;transform:scaleX(1.060);"><span>4</span></div>
<div class="t" style="left:194.30px;width:300.00px;top:489px;font-size:9.7px;line-height:12px;font-weight:400;-webkit-text-stroke:0.15px #000;transform:scaleX(1.060);"><span>170</span></div>
<div class="t" style="left:264.20px;width:300.00px;top:489px;font-size:9.7px;line-height:12px;transform:scaleX(1.060);"><span>200</span></div>
<div class="t" style="left:328.15px;width:300.00px;top:489px;font-size:9.7px;line-height:12px;transform:scaleX(1.060);"><span>42</span></div>
<div class="t" style="left:383.10px;width:300.00px;top:489px;font-size:9.7px;line-height:12px;transform:scaleX(1.060);"><span>15</span></div>
<div class="t" style="left:447.25px;width:300.00px;top:489px;font-size:9.7px;line-height:12px;transform:scaleX(1.060);"><span>257</span></div>
<div class="t" style="left:522.85px;width:300.00px;top:489px;font-size:9.7px;line-height:12px;font-weight:400;-webkit-text-stroke:0.2px #000;font-style:italic;transform:scaleX(1.060);"><span>0</span></div>
<div class="t" style="left:623.30px;width:244.70px;top:489px;font-size:9.7px;line-height:12px;transform:scaleX(1.060);"><span>2.522</span></div>
<div class="t" style="left:2.00px;width:275.80px;top:504px;font-size:9.7px;line-height:12px;transform:scaleX(0.964);"><span>TOTALE</span></div>
<div class="t" style="left:63.70px;width:300.00px;top:505px;font-size:9.7px;line-height:12px;transform:scaleX(1.060);"><span>28.011</span></div>
<div class="t" style="left:127.90px;width:300.00px;top:505px;font-size:9.7px;line-height:12px;transform:scaleX(1.060);"><span>3.186</span></div>
<div class="t" style="left:194.30px;width:300.00px;top:505px;font-size:9.7px;line-height:12px;transform:scaleX(1.060);"><span>73.094</span></div>
<div class="t" style="left:264.20px;width:300.00px;top:505px;font-size:9.7px;line-height:12px;transform:scaleX(1.060);"><span>104.291</span></div>
<div class="t" style="left:328.15px;width:300.00px;top:505px;font-size:9.7px;line-height:12px;transform:scaleX(1.060);"><span>37.130</span></div>
<div class="t" style="left:383.10px;width:300.00px;top:505px;font-size:9.7px;line-height:12px;transform:scaleX(1.060);"><span>21.067</span></div>
<div class="t" style="left:447.25px;width:300.00px;top:505px;font-size:9.7px;line-height:12px;transform:scaleX(1.060);"><span>162.488</span></div>
<div class="t" style="left:522.85px;width:300.00px;top:505px;font-size:9.7px;line-height:12px;font-weight:400;-webkit-text-stroke:0.2px #000;font-style:italic;transform:scaleX(1.060);"><span>+ 2.972</span></div>
<div class="t" style="left:623.30px;width:244.70px;top:505px;font-size:9.7px;line-height:12px;transform:scaleX(1.060);"><span>1.073.689</span></div>
<div class="t" style="left:97.20px;width:300.00px;top:543px;font-size:9.7px;line-height:12px;transform:scaleX(0.995);"><span>ATTUALMENTE POSITIVI</span></div>
<div class="t" style="left:194.55px;width:300.00px;top:543px;font-size:9.7px;line-height:12px;transform:scaleX(1.060);"><span>104.291</span></div>
<div class="t" style="left:97.50px;width:300.00px;top:559px;font-size:9.7px;line-height:12px;transform:scaleX(0.975);"><span>TOTALE GUARITI</span></div>
<div class="t" style="left:194.55px;width:300.00px;top:559px;font-size:9.7px;line-height:12px;transform:scaleX(1.060);"><span>37.130</span></div>
<div class="t" style="left:97.30px;width:300.00px;top:575px;font-size:9.7px;line-height:12px;transform:scaleX(0.955);"><span>TOTALE DECEDUTI</span></div>
<div class="t" style="left:194.55px;width:300.00px;top:575px;font-size:9.7px;line-height:12px;transform:scaleX(1.060);"><span>21.067</span></div>
<div class="t" style="left:97.55px;width:300.00px;top:590px;font-size:9.7px;line-height:12px;transform:scaleX(0.963);"><span>CASI TOTALI</span></div>
<div class="t" style="left:194.55px;width:300.00px;top:590px;font-size:9.7px;line-height:12px;transform:scaleX(1.060);"><span>162.488</span></div>
</div></body></html>
